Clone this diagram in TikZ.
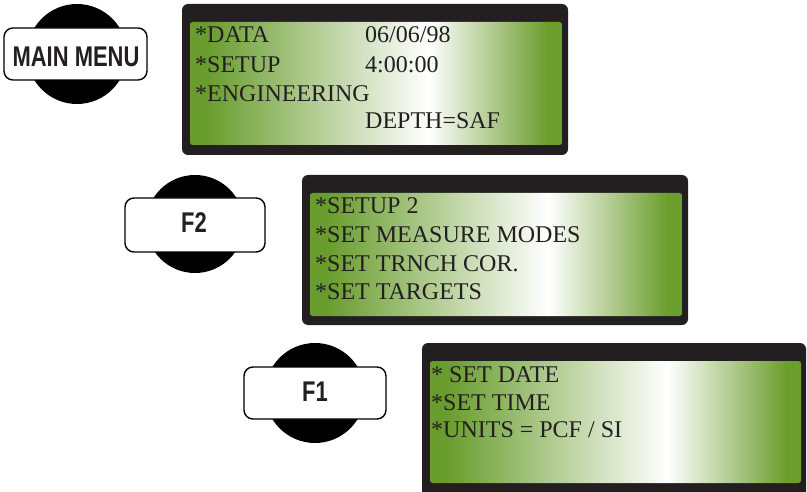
\documentclass[tikz,border=0pt]{standalone}
\usepackage{fontspec}
\usepackage{graphicx}
\setmainfont{Liberation Serif}
\newfontfamily\btnfont{Liberation Sans}
\definecolor{lcdgreen}{RGB}{104,156,44}
\definecolor{lcdgreenr}{RGB}{108,158,46}
\definecolor{framecol}{RGB}{35,31,32}
\pgfdeclarehorizontalshading{lcdshade}{100bp}{color(0bp)=(lcdgreen); color(27bp)=(lcdgreen); color(57bp)=(white); color(73bp)=(lcdgreenr); color(100bp)=(lcdgreenr)}
\tikzset{
  lcdouter/.style={fill=framecol, rounded corners=6pt},
  lcdinner/.style={shading=lcdshade, rounded corners=2.5pt},
  lcdtext/.style={anchor=base west, inner sep=0pt, text=framecol, font=\fontsize{24}{28}\selectfont},
  btncircle/.style={circle, fill=black, minimum size=100pt, inner sep=0pt},
  btnbox/.style={draw=black, line width=1.4pt, fill=white, rounded corners=9pt, inner sep=0pt,
                 minimum width=142pt, minimum height=52pt},
  btntext/.style={inner sep=0pt, text=framecol, font=\btnfont\bfseries\fontsize{28.5}{28}\selectfont},
}
\newcommand{\cond}[1]{\scalebox{0.77}[1]{#1}}
\begin{document}
\begin{tikzpicture}[x=1pt,y=-1pt]
\useasboundingbox (0,0) rectangle (807,492);
\clip (0,0) rectangle (807,492);
% panel 1
\path[lcdouter] (182,4) rectangle (568,155);
\path[lcdinner] (190,22) rectangle (562,145);
\node[lcdtext] (p1a) at (195,43) {*DATA};
\node[lcdtext] (p1b) at (365,43) {06/06/98};
\node[lcdtext] (p1c) at (195,73) {*SETUP};
\node[lcdtext] (p1d) at (365,73) {4:00:00};
\node[lcdtext] (p1e) at (195,102) {*ENGINEERING};
\node[lcdtext] (p1f) at (365,129) {DEPTH=SAF};
% panel 2
\path[lcdouter] (302,175) rectangle (688,325);
\path[lcdinner] (310,193) rectangle (682,316);
\node[lcdtext] (p2a) at (315,214) {*SETUP 2};
\node[lcdtext] (p2b) at (315,243) {*SET MEASURE MODES};
\node[lcdtext] (p2c) at (315,272) {*SET TRNCH COR.};
\node[lcdtext] (p2d) at (315,300) {*SET TARGETS};
% panel 3
\path[lcdouter] (422,343) rectangle (806,500);
\path[lcdinner] (430,361) rectangle (801,483);
\node[lcdtext] (p3a) at (431,382) {* SET DATE};
\node[lcdtext] (p3b) at (431,410) {*SET TIME};
\node[lcdtext] (p3c) at (431,437) {*UNITS = PCF / SI};
% buttons
\node[btncircle] (c1) at (77,54) {};
\node[btnbox, minimum width=143pt] (b1) at (75.5,54) {};
\node[btntext] (t1) at (76,56.5) {\cond{MAIN MENU}};
\node[btncircle, minimum size=98pt] (c2) at (195,224) {};
\node[btnbox, minimum width=140pt, minimum height=54pt] (b2) at (195,225) {};
\node[btntext] (t2) at (194,223) {\cond{F2}};
\node[btncircle] (c3) at (315,393) {};
\node[btnbox] (b3) at (315,393) {};
\node[btntext] (t3) at (315,392) {\cond{F1}};
\end{tikzpicture}
\end{document}
